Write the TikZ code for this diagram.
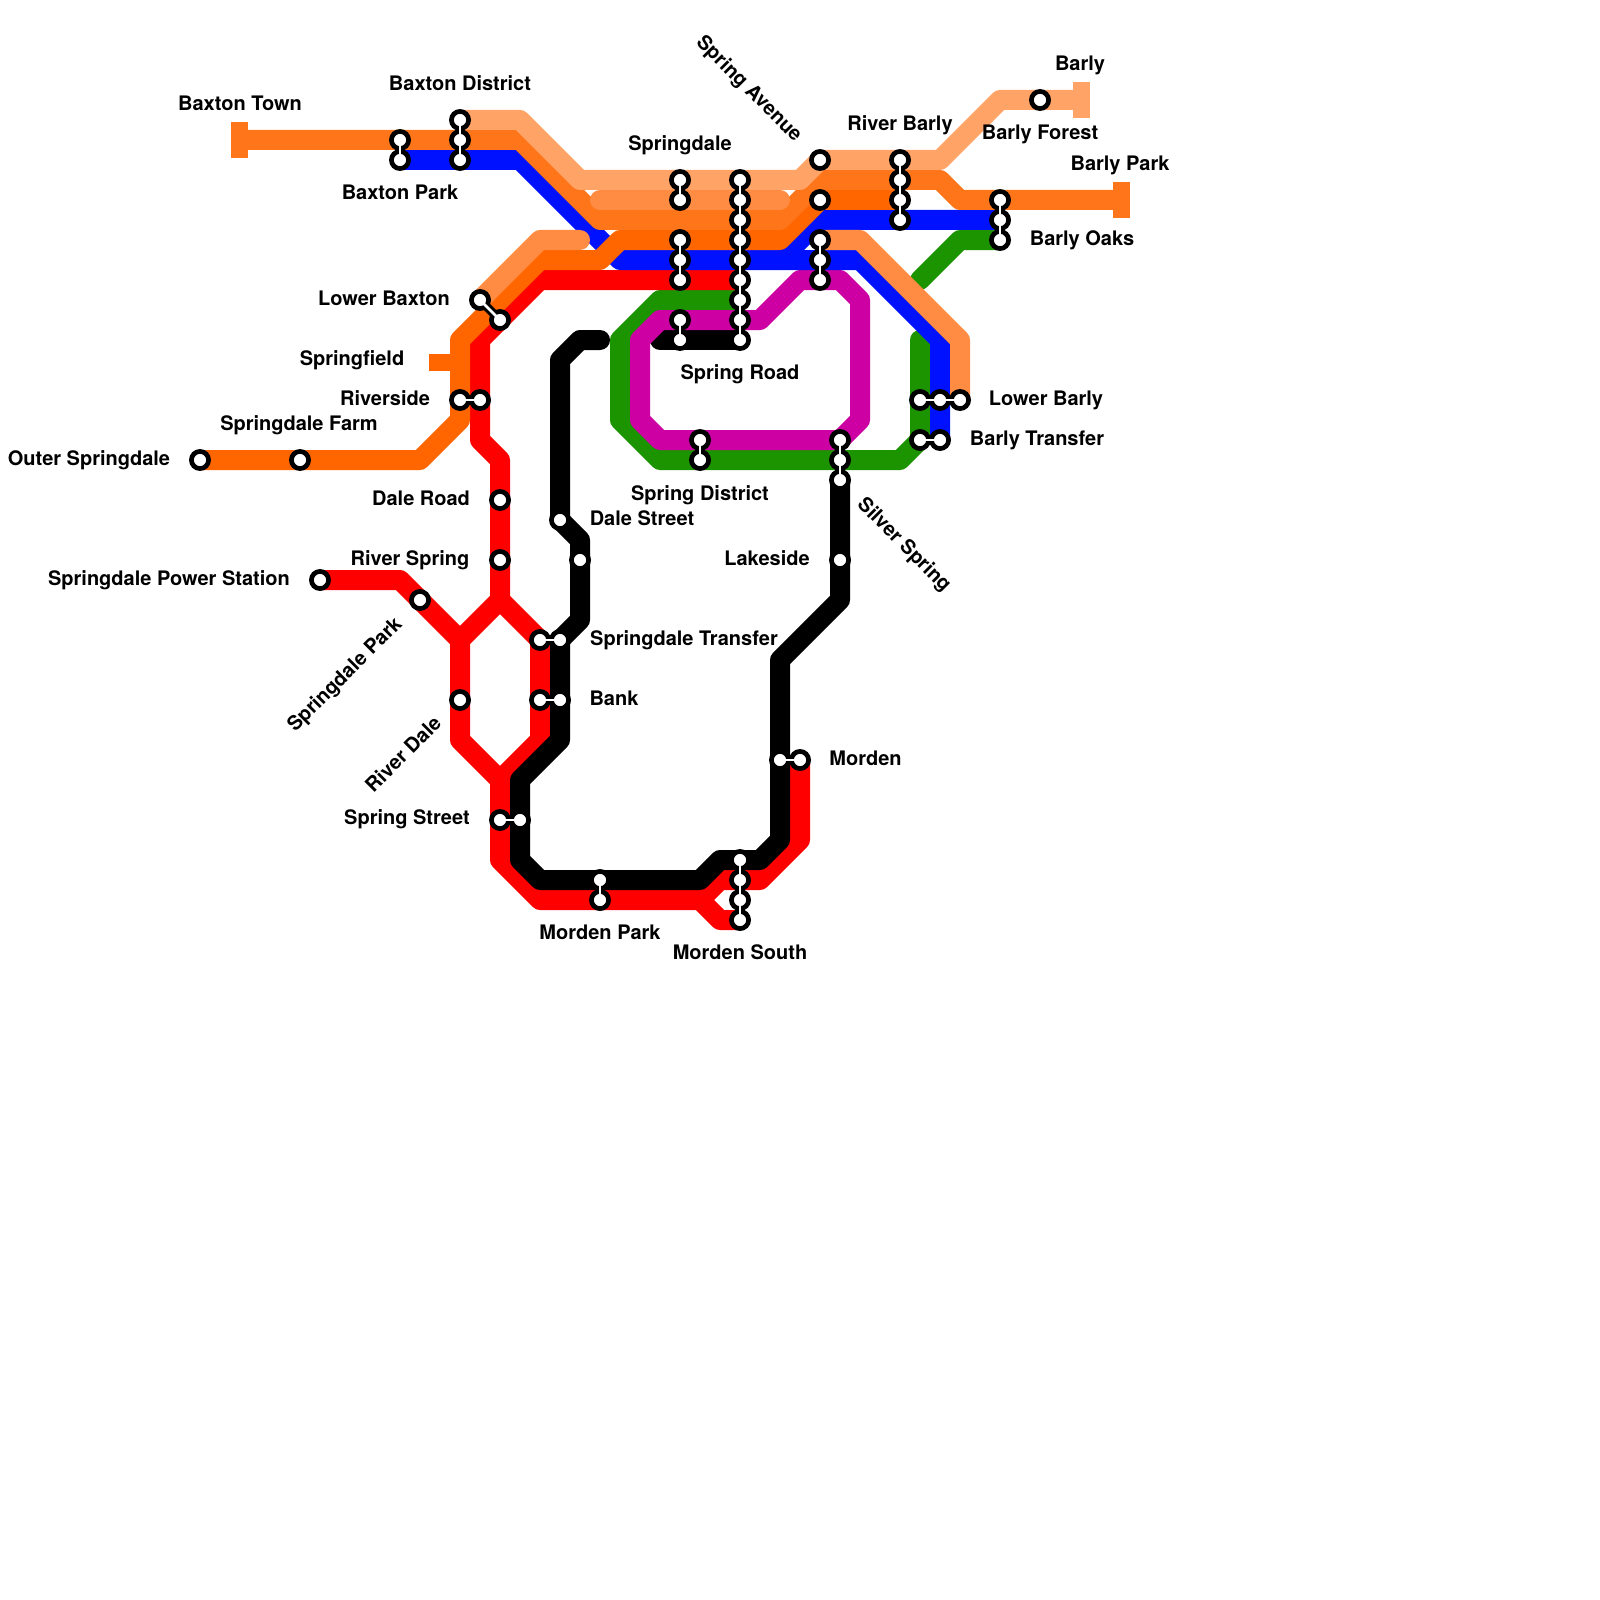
\documentclass[tikz,border=0pt]{standalone}
\usepackage{fontspec}
\setmainfont{TeX Gyre Heros}
\usetikzlibrary{backgrounds}
\definecolor{peachline}{HTML}{FFA366}
\definecolor{orangeline}{HTML}{FF751A}
\definecolor{darkorange}{HTML}{FF6600}
\definecolor{midorange}{HTML}{FF8C42}
\definecolor{blueline}{HTML}{0011FF}
\definecolor{greenline}{HTML}{1C9400}
\definecolor{magentaline}{HTML}{CC00A3}
\tikzset{
  track/.style={line width=2mm,line cap=round,line join=round},
  neck/.style={line width=0.85mm,draw=black},
  neckinner/.style={line width=0.28mm,draw=white},
  station/.style={circle,draw=black,fill=white,line width=0.47mm,minimum size=1.72mm,inner sep=0pt},
  terminus/.style={rectangle,minimum width=1.7mm,minimum height=3.6mm,inner sep=0pt},
  stationname/.style={inner sep=0pt,text height=1.44mm,text depth=0pt,font=\fontsize{5.69pt}{6.5pt}\selectfont\bfseries}
}
\begin{document}
\begin{tikzpicture}[x=1mm,y=-1mm]
      \useasboundingbox (0,0) rectangle (160,160);
      \foreach \n/\x/\y in {bpark1/40/14,bpark2/40/16,bdist1/46/12,bdist2/46/14,bdist3/46/16,
        sdale1/68/18,sdale2/68/20,smid1/68/24,smid2/68/26,smid3/68/28,slow1/68/32,slow2/68/34,
        sroad1/74/18,sroad2/74/20,sroad3/74/22,sroad4/74/24,sroad5/74/26,sroad6/74/28,sroad7/74/30,sroad8/74/32,sroad9/74/34,
        savenue/82/16,rcross/82/20,scross1/82/24,scross2/82/26,scross3/82/28,
        rbarly1/90/16,rbarly2/90/18,rbarly3/90/20,rbarly4/90/22,bforest/104/10,boaks1/100/20,boaks2/100/22,boaks3/100/24,
        lbax1/48/30,lbax2/50/32,river1/46/40,river2/48/40,sfarm/30/46,outer/20/46,
        daler/50/50,rspring/50/56,dales/56/52,dalez/58/56,sdist1/70/44,sdist2/70/46,
        lbarly1/92/40,lbarly2/94/40,lbarly3/96/40,btrans1/92/44,btrans2/94/44,
        silver1/84/44,silver2/84/46,silver3/84/48,lakes/84/56,
        power/32/58,spark/42/60,rdale/46/70,strans1/54/64,strans2/56/64,bank1/54/70,bank2/56/70,
        sstreet1/50/82,sstreet2/52/82,mpark1/60/88,mpark2/60/90,morden1/78/76,morden2/80/76,
        msouth1/74/86,msouth2/74/88,msouth3/74/90,msouth4/74/92}
        \node[station] (\n) at (\x,\y) {};
      \node[terminus,fill=orangeline] (bxtown) at (23.9,14) {};
      \node[terminus,fill=peachline] (barly) at (108.15,10) {};
      \node[terminus,fill=orangeline] (bypark) at (112.15,20) {};
      \node[terminus,fill=darkorange,minimum width=2.6mm,minimum height=1.7mm] (sfield) at (44.2,36.25) {};
      \begin{scope}[on background layer]
      \draw[track,greenline] (boaks3.center) -- (96,24) -- (92,28);
      \draw[track,greenline] (92,34) -- (92,44) -- (90,46) -- (66,46) -- (62,42) -- (62,34) -- (66,30) -- (sroad7.center);
      \draw[track,red] (sroad6.center) -- (54,28) -- (48,34) -- (48,44) -- (50,46) -- (50,60) -- (46,64) -- (46,74) -- (50,78) -- (50,86) -- (54,90) -- (70,90) -- (72,92) -- (msouth4.center);
      \draw[track,red] (power.center) -- (40,58) -- (46,64);
      \draw[track,red] (50,60) -- (54,64) -- (54,74) -- (50,78);
      \draw[track,red] (70,90) -- (72,88) -- (76,88) -- (80,84) -- (morden2.center);
      \draw[track,black] (60,34) -- (58,34) -- (56,36) -- (56,52) -- (58,54) -- (58,62) -- (56,64) -- (56,74) -- (52,78) -- (52,86) -- (54,88) -- (70,88) -- (72,86) -- (76,86) -- (78,84) -- (78,66) -- (84,60) -- (silver3.center);
      \draw[track,black] (66,34) -- (sroad9.center);
      \draw[track,magentaline] (sroad8.center) -- (76,32) -- (80,28) -- (84,28) -- (86,30) -- (86,42) -- (84,44) -- (66,44) -- (64,42) -- (64,34) -- (66,32) -- (sroad8.center);
      \draw[track,blueline] (bpark2.center) -- (52,16) -- (62,26) -- (78,26) -- (82,22) -- (boaks2.center);
      \draw[track,blueline] (78,26) -- (86,26) -- (94,34) -- (btrans2.center);
      \draw[track,darkorange] (outer.center) -- (42,46) -- (46,42) -- (46,34) -- (54,26) -- (60,26) -- (62,24) -- (78,24) -- (82,20) -- (rbarly3.center);
      \draw[track,orangeline] (bxtown) -- (52,14) -- (60,22) -- (78,22) -- (82,18) -- (94,18) -- (96,20) -- (bypark);
      \draw[track,midorange] (lbax1.center) -- (54,24) -- (58,24);
      \draw[track,midorange] (60,20) -- (78,20);
      \draw[track,midorange] (82,24) -- (86,24) -- (96,34) -- (lbarly3.center);
      \draw[track,peachline] (bdist1.center) -- (52,12) -- (58,18) -- (80,18) -- (82,16) -- (94,16) -- (100,10) -- (barly);
      \foreach \a/\b in {bpark1/bpark2,bdist1/bdist3,sdale1/sdale2,smid1/smid3,slow1/slow2,sroad1/sroad9,scross1/scross3,rbarly1/rbarly4,boaks1/boaks3,lbax1/lbax2,river1/river2,sdist1/sdist2,lbarly1/lbarly3,btrans1/btrans2,silver1/silver3,strans1/strans2,bank1/bank2,sstreet1/sstreet2,mpark1/mpark2,morden1/morden2,msouth1/msouth4}
        \draw[neck] (\a.center) -- (\b.center);
      \end{scope}
      \foreach \a/\b in {bpark1/bpark2,bdist1/bdist3,sdale1/sdale2,smid1/smid3,slow1/slow2,sroad1/sroad9,scross1/scross3,rbarly1/rbarly4,boaks1/boaks3,lbax1/lbax2,river1/river2,sdist1/sdist2,lbarly1/lbarly3,btrans1/btrans2,silver1/silver3,strans1/strans2,bank1/bank2,sstreet1/sstreet2,mpark1/mpark2,morden1/morden2,msouth1/msouth4}
        \draw[neckinner] (\a.center) -- (\b.center);
      \node[stationname] (t1) at (24,10.3) {Baxton Town};
      \node[stationname] (t2) at (46,8.3) {Baxton District};
      \node[stationname] (t3) at (40,19.25) {Baxton Park};
      \node[stationname] (t4) at (68,14.3) {Springdale};
      \node[stationname,rotate=-45] (t5) at (75,8.8) {Spring Avenue};
      \node[stationname] (t6) at (90,12.3) {River Barly};
      \node[stationname] (t7) at (108,6.3) {Barly};
      \node[stationname] (t8) at (104,13.25) {Barly Forest};
      \node[stationname] (t9) at (112,16.3) {Barly Park};
      \node[stationname] (t10) at (108.2,23.8) {Barly Oaks};
      \node[stationname] (t11) at (38.4,29.8) {Lower Baxton};
      \node[stationname] (t12) at (35.2,35.8) {Springfield};
      \node[stationname] (t13) at (38.5,39.8) {Riverside};
      \node[stationname] (t14) at (29.9,42.3) {Springdale Farm};
      \node[stationname] (t15) at (8.9,45.8) {Outer Springdale};
      \node[stationname] (t16) at (42.1,49.8) {Dale Road};
      \node[stationname] (t17) at (64.2,51.8) {Dale Street};
      \node[stationname] (t18) at (74,37.25) {Spring Road};
      \node[stationname] (t19) at (70,49.3) {Spring District};
      \node[stationname] (t20) at (104.6,39.8) {Lower Barly};
      \node[stationname] (t21) at (103.7,43.8) {Barly Transfer};
      \node[stationname,rotate=-45] (t22) at (90.5,54.4) {Silver Spring};
      \node[stationname] (t23) at (76.7,55.8) {Lakeside};
      \node[stationname] (t24) at (41,55.8) {River Spring};
      \node[stationname] (t25) at (16.9,57.8) {Springdale Power Station};
      \node[stationname,rotate=45] (t26) at (34.4,67.4) {Springdale Park};
      \node[stationname,rotate=45] (t27) at (40.3,75.4) {River Dale};
      \node[stationname] (t28) at (40.7,81.7) {Spring Street};
      \node[stationname] (t29) at (68.4,63.8) {Springdale Transfer};
      \node[stationname] (t30) at (61.4,69.8) {Bank};
      \node[stationname] (t31) at (86.55,75.8) {Morden};
      \node[stationname] (t32) at (60,93.25) {Morden Park};
      \node[stationname] (t33) at (74,95.25) {Morden South};
\end{tikzpicture}
\end{document}
